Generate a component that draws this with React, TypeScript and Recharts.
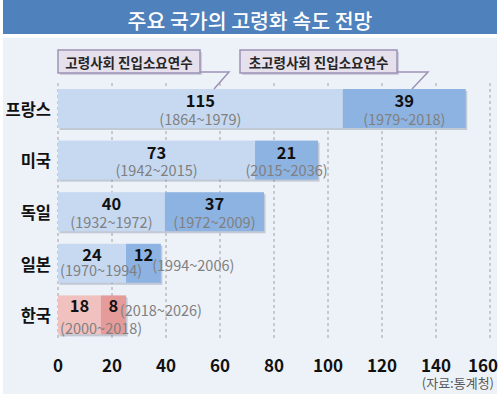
import React from 'react';
import { BarChart, Bar, XAxis, YAxis, CartesianGrid, Cell } from 'recharts';

const title = '주요 국가의 고령화 속도 전망';
const source = '(자료:통계청)';
const legendAged = '고령사회 진입소요연수';
const legendSuperAged = '초고령사회 진입소요연수';

const countries = ['프랑스', '미국', '독일', '일본', '한국'];
// bar lengths as drawn in the picture
const agedBars = [105.5, 73, 39.6, 25.2, 15.9];
const superAgedBars = [45.5, 23.3, 36.7, 12.9, 9.3];
// printed labels
const agedLabels = ['115', '73', '40', '24', '18'];
const agedPeriods = ['(1864~1979)', '(1942~2015)', '(1932~1972)', '(1970~1994)', '(2000~2018)'];
const superAgedLabels = ['39', '21', '37', '12', '8'];
const superAgedPeriods = ['(1979~2018)', '(2015~2036)', '(1972~2009)', '(1994~2006)', '(2018~2026)'];
const xTicks = [0, 20, 40, 60, 80, 100, 120, 140, 160];

const data = countries.map((name, i) => ({
  name,
  aged: agedBars[i],
  superAged: superAgedBars[i],
}));

const FONT = '"Noto Sans CJK KR", "Noto Sans", sans-serif';
const W = 500;
const H = 396;
const PLOT_LEFT = 58;

const agedColor = (i: number) => (countries[i] === '한국' ? '#f1c1c0' : '#c6d9f1');
const superColor = (i: number) => (countries[i] === '한국' ? '#e49b99' : '#8db3e2');

const ShadowRect = (props: any, fill: string) => {
  const { x, y, width, height } = props;
  if (width == null || width <= 0) return <g />;
  return (
    <g>
      <rect x={x + 1.5} y={y + 2} width={width} height={height} fill="#6f7f96" opacity={0.35} />
      <rect x={x} y={y} width={width} height={height} fill={fill} />
    </g>
  );
};

const AgedShape = (props: any) => ShadowRect(props, agedColor(props.index));

const SuperShape = (props: any) => {
  const { x, y, width, index } = props;
  const x1 = PLOT_LEFT;
  const w1 = x - PLOT_LEFT;
  const numStyle = { fontFamily: FONT, fontSize: 16.5, fontWeight: 700, fill: '#111' } as any;
  const perStyle = { fontFamily: FONT, fontSize: 14.5, fill: '#808080' } as any;
  const narrow1 = w1 < 80;
  const narrow2 = width < 50;
  return (
    <g>
      {ShadowRect(props, superColor(index))}
      {/* aged labels */}
      <text x={x1 + w1 / 2} y={y + (narrow1 ? 10 : 11)} textAnchor="middle" dominantBaseline="central" style={numStyle}>
        {agedLabels[index]}
      </text>
      <text
        x={narrow1 ? x1 + 2 : x1 + w1 / 2}
        y={y + (narrow1 ? (w1 < 50 ? 32 : 26) : 29)}
        textAnchor={narrow1 ? 'start' : 'middle'}
        dominantBaseline="central"
        style={perStyle}
      >
        {agedPeriods[index]}
      </text>
      {/* super aged labels */}
      <text x={x + width / 2} y={y + (narrow2 ? 10 : 11)} textAnchor="middle" dominantBaseline="central" style={numStyle}>
        {superAgedLabels[index]}
      </text>
      <text
        x={narrow2 ? x + width * 0.75 : x + width / 2}
        y={y + (narrow2 ? (width < 30 ? 14 : 21) : 29)}
        textAnchor={narrow2 ? 'start' : 'middle'}
        dominantBaseline="central"
        style={perStyle}
      >
        {superAgedPeriods[index]}
      </text>
    </g>
  );
};

const XTick = (props: any) => {
  const { x, y, payload } = props;
  const last = payload.value === xTicks[xTicks.length - 1];
  return (
    <text
      x={x + (last ? -7 : 0)}
      y={y}
      dy={15}
      textAnchor="middle"
      dominantBaseline="central"
      style={{ fontFamily: FONT, fontSize: 17, fontWeight: 700, fill: '#111' }}
    >
      {payload.value}
    </text>
  );
};

const YTick = (props: any) => {
  const { x, y, payload } = props;
  return (
    <text
      x={x + 1}
      y={y}
      textAnchor="end"
      dominantBaseline="central"
      style={{ fontFamily: FONT, fontSize: 16.5, fontWeight: 700, fill: '#111' }}
    >
      {payload.value}
    </text>
  );
};

const Callout = ({ x, y, w, h, text, tail }: any) => (
  <g>
    <rect x={x + 2} y={y + 2} width={w} height={h} fill="#8a8fa0" opacity={0.35} />
    <rect x={x} y={y} width={w} height={h} fill="#e5e0ec" stroke="#9d92b6" strokeWidth={1.5} />
    <polyline points={tail} fill="none" stroke="#9d92b6" strokeWidth={1.5} />
    <text
      x={x + w / 2}
      y={y + h / 2}
      textAnchor="middle"
      dominantBaseline="central"
      style={{ fontFamily: FONT, fontSize: 13.5, fontWeight: 700, fill: '#262626' }}
    >
      {text}
    </text>
  </g>
);

export default function App() {
  return (
    <div style={{ position: 'absolute', left: 0, top: 0, width: W, height: H, background: '#ffffff', overflow: 'hidden' }}>
      <svg width={W} height={H} style={{ position: 'absolute', left: 0, top: 0 }}>
        <rect x={3} y={0} width={494} height={34} fill="#4f81bd" />
        <rect x={3} y={38} width={494} height={356} fill="#edf1f8" />
        <text
          x={250}
          y={20}
          textAnchor="middle"
          dominantBaseline="central"
          style={{ fontFamily: FONT, fontSize: 20.5, fontWeight: 500, fill: '#ffffff' }}
        >
          {title}
        </text>
      </svg>
      <div style={{ position: 'absolute', left: 0, top: 0 }}>
        <BarChart
          width={W}
          height={H}
          data={data}
          layout="vertical"
          margin={{ top: 83, right: 10, bottom: 25, left: 0 }}
          barSize={39}
        >
          <CartesianGrid horizontal={false} strokeDasharray="3 3" stroke="#a0a0a0" />
          <XAxis
            type="number"
            domain={[0, 160]}
            ticks={xTicks}
            axisLine={false}
            tickLine={false}
            height={30}
            tick={<XTick />}
            interval={0}
          />
          <YAxis
            type="category"
            dataKey="name"
            axisLine={false}
            tickLine={false}
            width={58}
            tick={<YTick />}
          />
          <Bar dataKey="aged" stackId="s" isAnimationActive={false} shape={AgedShape}>
            {data.map((d, i) => (
              <Cell key={i} fill={agedColor(i)} />
            ))}
          </Bar>
          <Bar dataKey="superAged" stackId="s" isAnimationActive={false} shape={SuperShape}>
            {data.map((d, i) => (
              <Cell key={i} fill={superColor(i)} />
            ))}
          </Bar>
        </BarChart>
      </div>
      <svg width={W} height={H} style={{ position: 'absolute', left: 0, top: 0, pointerEvents: 'none' }}>
        <Callout x={58} y={50} w={142} h={23} text={legendAged} tail="200,72 229,72 214,89" />
        <Callout x={240} y={50} w={157} h={23} text={legendSuperAged} tail="397,72 428,72 412,89" />
        <text
          x={494}
          y={382}
          textAnchor="end"
          dominantBaseline="central"
          style={{ fontFamily: FONT, fontSize: 13, fill: '#595959' }}
        >
          {source}
        </text>
      </svg>
    </div>
  );
}
